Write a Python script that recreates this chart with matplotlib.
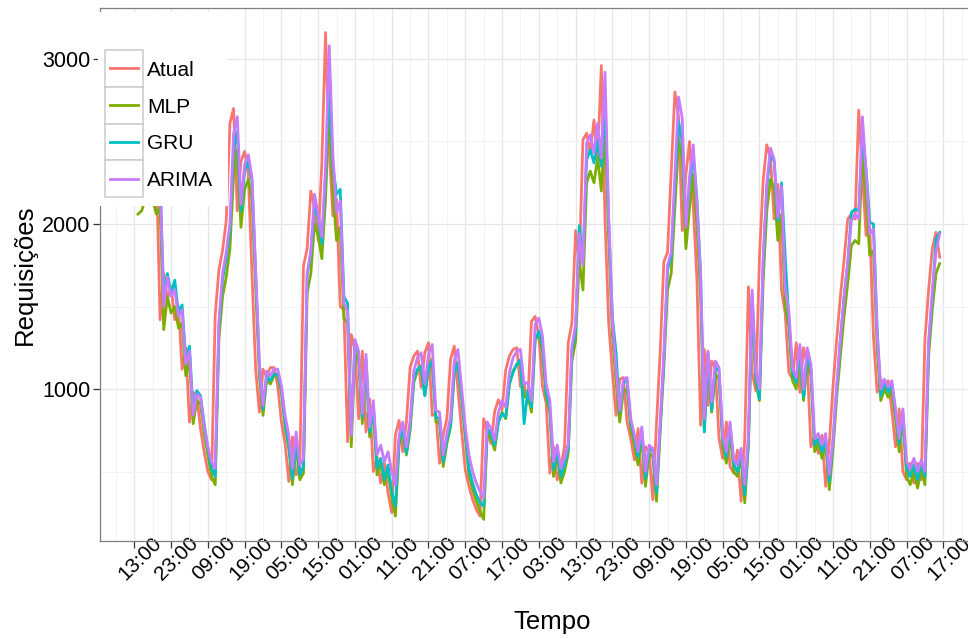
import numpy as np
import matplotlib
matplotlib.use('Agg')
import matplotlib.pyplot as plt
from matplotlib.patches import Rectangle
from matplotlib.lines import Line2D
import matplotlib.transforms as mtransforms

plt.rcParams['font.family'] = ['Liberation Sans', 'DejaVu Sans']

# ---- data (hourly, starting 14:00 on day 1) ----
atual = [
    2150, 2300, 2450, 2300, 2200, 2350, 1420, 1700, 1550, 1620,
    1420, 1500, 1120, 1250, 800, 980, 960, 760, 620, 500,
    450, 1450, 1720, 1840, 2020, 2610, 2700, 2080, 2380, 2440,
    2300, 1700, 1120, 860, 1120, 1070, 1130, 1130, 1020, 800,
    670, 440, 710, 480, 520, 1745, 1850, 2200, 2100, 1900,
    2370, 3160, 2450, 2050, 2150, 1500, 1480, 680, 1330, 1240,
    820, 1230, 740, 940, 500, 590, 430, 550, 370, 250,
    720, 810, 620, 800, 1130, 1200, 1230, 1010, 1220, 1280,
    840, 850, 550, 720, 820, 1180, 1260, 1000, 750, 510,
    410, 330, 270, 230, 820, 740, 670, 865, 935, 875,
    1115, 1200, 1240, 1250, 1015, 1030, 915, 1410, 1440, 1320,
    1015, 915, 490, 650, 450, 530, 650, 1280, 1400, 1960,
    1740, 2510, 2550, 2430, 2630, 2390, 2960, 2030, 1400, 1100,
    840, 1060, 1070, 800, 700, 570, 760, 430, 650, 620,
    330, 790, 1220, 1770, 1830, 2310, 2800, 2650, 1960, 2300,
    2500, 2110, 1660, 780, 1240, 900, 1170, 1130, 700, 580,
    800, 530, 490, 630, 320, 700, 1620, 1100, 990, 1800,
    2260, 2480, 2400, 2030, 2240, 1600, 1460, 1100, 1060, 1280,
    980, 1250, 1150, 650, 720, 610, 720, 410, 670, 1015,
    1300, 1560, 1780, 2030, 2060, 2030, 2690, 2300, 1930, 1980,
    1320, 980, 1060, 1000, 1050, 870, 650, 880, 500, 450,
    550, 430, 550, 450, 1300, 1600, 1850, 1950, 1800]

mlp = [
    2060, 2080, 2150, 2250, 2150, 2060, 2100, 1360, 1560, 1460,
    1500, 1370, 1400, 1080, 1170, 790, 930, 910, 730, 600,
    470, 420, 1300, 1560, 1680, 1850, 2300, 2450, 1980, 2210,
    2270, 2150, 1620, 1080, 840, 1060, 1030, 1080, 1080, 980,
    770, 640, 420, 660, 450, 490, 1580, 1700, 2000, 1930,
    1790, 2150, 2720, 2200, 1900, 1980, 1430, 1400, 650, 1220,
    1160, 790, 1140, 710, 880, 480, 550, 420, 510, 340,
    230, 660, 750, 600, 750, 1040, 1110, 1140, 960, 1130,
    1180, 800, 800, 530, 670, 770, 1090, 1160, 940, 710,
    480, 390, 320, 260, 210, 740, 700, 630, 800, 860,
    820, 1030, 1110, 1150, 1160, 950, 960, 860, 1300, 1330,
    1230, 950, 860, 470, 600, 430, 500, 610, 1170, 1290,
    1780, 1600, 2250, 2320, 2250, 2400, 2200, 2600, 1900, 1330,
    1040, 800, 990, 1000, 760, 660, 540, 710, 410, 610,
    590, 320, 740, 1130, 1600, 1700, 2100, 2500, 2400, 1850,
    2100, 2300, 1980, 1560, 750, 1150, 860, 1090, 1060, 660,
    550, 740, 500, 470, 590, 310, 660, 1500, 1040, 930,
    1650, 2080, 2270, 2220, 1900, 2060, 1500, 1380, 1050, 1000,
    1190, 930, 1170, 1080, 620, 670, 580, 670, 390, 630,
    950, 1200, 1440, 1640, 1870, 1900, 1880, 2450, 2150, 1810,
    1840, 1250, 930, 1000, 950, 990, 820, 620, 820, 470,
    420, 500, 400, 510, 420, 1200, 1480, 1700, 1760]

gru = [
    2120, 2150, 2280, 2400, 2280, 2200, 2270, 1560, 1700, 1580,
    1660, 1460, 1510, 1180, 1260, 860, 990, 960, 790, 640,
    520, 470, 1380, 1660, 1800, 1960, 2450, 2560, 2080, 2320,
    2380, 2260, 1700, 1160, 880, 1080, 1050, 1090, 1090, 1000,
    800, 660, 460, 700, 480, 530, 1690, 1820, 2120, 2040,
    1880, 2290, 2850, 2350, 2180, 2210, 1560, 1520, 740, 1290,
    1210, 830, 1180, 740, 900, 520, 580, 450, 540, 380,
    290, 690, 760, 610, 780, 1060, 1120, 1140, 960, 1130,
    1170, 830, 820, 560, 690, 780, 1100, 1160, 960, 740,
    520, 430, 360, 310, 290, 760, 730, 660, 800, 850,
    830, 1030, 1100, 1150, 1180, 790, 990, 890, 1300, 1350,
    1260, 980, 880, 510, 630, 470, 540, 640, 1230, 1350,
    1990, 1770, 2390, 2450, 2370, 2500, 2350, 2750, 2020, 1440,
    1220, 860, 1040, 1050, 800, 700, 590, 750, 460, 640,
    620, 370, 770, 1180, 1720, 1800, 2230, 2620, 2500, 2000,
    2240, 2420, 2150, 1700, 740, 1220, 870, 1130, 1110, 700,
    590, 780, 540, 500, 620, 360, 680, 1570, 1080, 940,
    1760, 2220, 2420, 2380, 2020, 2250, 1800, 1420, 1100, 1040,
    1230, 950, 1200, 1120, 660, 700, 620, 700, 440, 680,
    1000, 1300, 1560, 1760, 2070, 2090, 2080, 2550, 2330, 2010,
    2000, 1370, 960, 1040, 980, 1030, 860, 670, 860, 520,
    470, 540, 450, 550, 470, 1260, 1560, 1910, 1950]

arima = [
    2150, 2180, 2320, 2430, 2300, 2220, 2300, 1500, 1680, 1560,
    1600, 1440, 1480, 1150, 1230, 840, 970, 950, 780, 650,
    560, 520, 1400, 1700, 1830, 2000, 2550, 2650, 2120, 2360,
    2420, 2280, 1720, 1150, 900, 1110, 1080, 1120, 1120, 1020,
    840, 720, 520, 740, 540, 580, 1700, 1840, 2180, 2060,
    1920, 2340, 3080, 2420, 2070, 2140, 1520, 1470, 720, 1300,
    1230, 850, 1210, 770, 930, 600, 660, 560, 620, 500,
    420, 720, 800, 650, 810, 1110, 1190, 1220, 1030, 1210,
    1270, 870, 860, 600, 730, 830, 1170, 1240, 1010, 770,
    600, 500, 430, 380, 340, 800, 760, 690, 860, 930,
    890, 1100, 1190, 1230, 1240, 1030, 1040, 930, 1390, 1430,
    1320, 1030, 930, 560, 660, 520, 580, 670, 1260, 1390,
    1940, 1750, 2490, 2540, 2430, 2610, 2400, 2920, 2040, 1420,
    1120, 870, 1060, 1070, 820, 720, 620, 770, 500, 660,
    640, 420, 790, 1210, 1750, 1830, 2300, 2770, 2640, 1980,
    2290, 2480, 2120, 1680, 820, 1230, 920, 1170, 1130, 720,
    620, 800, 570, 540, 640, 420, 720, 1600, 1110, 1000,
    1790, 2250, 2460, 2390, 2040, 2230, 1610, 1470, 1130, 1070,
    1270, 1000, 1250, 1150, 700, 730, 660, 730, 480, 690,
    1020, 1300, 1550, 1770, 2020, 2060, 2030, 2650, 2310, 1940,
    1970, 1340, 1000, 1060, 1010, 1050, 880, 700, 880, 560,
    520, 580, 500, 570, 500, 1290, 1590, 1830, 1940]

series_names = ['Atual', 'MLP', 'GRU', 'ARIMA']
series_colors = ['#F8766D', '#7CAE00', '#00BFC4', '#C77CFF']
tick_labels = ['13:00', '23:00', '09:00', '19:00', '05:00', '15:00', '01:00',
               '11:00', '21:00', '07:00', '17:00', '03:00', '13:00', '23:00',
               '09:00', '19:00', '05:00', '15:00', '01:00', '11:00', '21:00',
               '07:00', '17:00']
y_ticks = [1000, 2000, 3000]
y_minor = [500, 1500, 2500]

for s in (mlp, gru, arima):
    assert len(s) == len(atual), (len(atual), len(mlp), len(gru), len(arima))

# hours elapsed since the first tick (13:00)
hours = np.arange(1, len(atual) + 1)
tick_pos = np.arange(len(tick_labels)) * 10
minor_pos = np.arange(-5, tick_pos[-1] + 20, 10)

W, H = 968, 639
fig = plt.figure(figsize=(W / 100, H / 100), dpi=100)
fx = lambda px: px / W
fy = lambda py: 1 - py / H

ax = fig.add_axes([fx(100), fy(541), fx(1004) - fx(100), fy(8) - fy(541)])
ax.set_facecolor('white')

for vals, c in zip([atual, mlp, gru, arima], series_colors):
    ax.plot(hours, vals, color=c, lw=2.0, solid_joinstyle='round', zorder=3)

ax.set_xlim(-9.33, 236.5)
ax.set_ylim(79, 3309)

ax.set_xticks(tick_pos)
ax.set_xticks(minor_pos, minor=True)
ax.set_yticks(y_ticks)
ax.set_yticks(y_minor, minor=True)
ax.set_yticklabels([str(v) for v in y_ticks], fontsize=15.5)
ax.set_xticklabels(tick_labels, rotation=45, rotation_mode='anchor',
                   ha='center', va='center', fontsize=15)

ax.grid(True, which='major', color='#E6E6E6', lw=0.9, zorder=0)
ax.grid(True, which='minor', color='#F3F3F3', lw=0.7, zorder=0)
ax.set_axisbelow(True)

ax.tick_params(axis='both', which='major', length=5, width=0.9, color='#333333',
               labelcolor='black')
ax.tick_params(axis='x', which='major', pad=7.5)
ax.tick_params(axis='y', which='major', pad=2)
ax.tick_params(axis='both', which='minor', length=0)

offset = mtransforms.ScaledTranslation(6 / 100, 0, fig.dpi_scale_trans)
for lbl in ax.get_xticklabels():
    lbl.set_transform(lbl.get_transform() + offset)

for sp in ax.spines.values():
    sp.set_color('#7F7F7F')
    sp.set_linewidth(0.9)

ax.set_xlabel('Tempo', fontsize=18.5, va='center')
ax.xaxis.set_label_coords(0.5, (541 - 622) / 533)
ax.set_ylabel('Requisições', fontsize=18.5, va='center')
ax.yaxis.set_label_coords((25 - 100) / 904, 0.5)

# ---- legend drawn inside the panel, top-left ----
fig.add_artist(Rectangle((fx(98), fy(206)), fx(228) - fx(98), fy(12) - fy(206),
                         transform=fig.transFigure, facecolor='white',
                         edgecolor='none', zorder=10))
box_h = 36.75
for i, (name, c) in enumerate(zip(series_names, series_colors)):
    top = 50 + i * box_h
    bot = top + box_h
    cy = (top + bot) / 2
    fig.add_artist(Rectangle((fx(105), fy(bot)), fx(143) - fx(105), fy(top) - fy(bot),
                             transform=fig.transFigure, facecolor='white',
                             edgecolor='#CCCCCC', lw=1.1, zorder=11))
    fig.add_artist(Line2D([fx(110), fx(138)], [fy(cy), fy(cy)],
                          transform=fig.transFigure, color=c, lw=2.0, zorder=12))
    fig.text(fx(147), fy(cy + 7.5), name, fontsize=15, va='baseline', ha='left',
             zorder=12)

fig.savefig('out.png', dpi=100)
